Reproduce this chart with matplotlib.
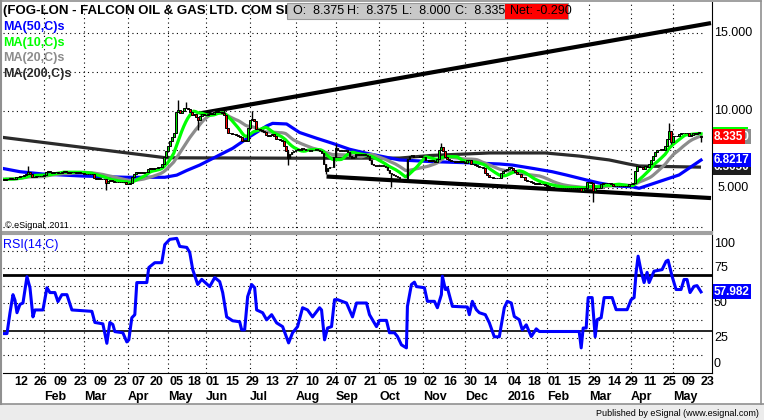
import numpy as np
import pandas as pd
import matplotlib
matplotlib.use("Agg")
import matplotlib.pyplot as plt
from matplotlib.patches import Rectangle
from matplotlib.lines import Line2D

plt.rcParams['font.family'] = ['Liberation Sans', 'DejaVu Sans']

# ---------------- data ----------------
uk_holidays = ['2015-01-01', '2015-04-03', '2015-04-06', '2015-05-04', '2015-05-25',
               '2015-08-31', '2015-12-25', '2015-12-28', '2016-01-01', '2016-03-25',
               '2016-03-28', '2016-05-02']
first_day = '2015-01-02'
last_day = '2016-05-23'

# daily closes, one row per month (Jan 2015 .. May 2016)
closes = [
    5.60, 5.55, 5.62, 5.58, 5.65, 5.60, 5.62, 5.70, 5.75, 5.80, 5.78, 5.85, 5.95, 6.05, 5.95, 5.70, 5.75, 5.80, 5.78, 5.82, 5.80,
    5.85, 6.05, 6.10, 6.05, 6.00, 6.02, 6.05, 6.00, 5.98, 6.05, 6.10, 6.02, 6.00, 6.05, 6.08, 6.05, 6.00, 6.02, 6.00, 5.98,
    5.95, 5.92, 5.95, 5.92, 5.90, 5.65, 5.62, 5.65, 5.60, 5.62, 5.58, 5.35, 5.50, 5.55, 5.50, 5.40, 5.42, 5.40, 5.40, 5.38, 5.40, 5.25,
    5.30, 5.35, 5.70, 5.95, 6.05, 6.00, 6.05, 6.00, 6.05, 6.05, 6.25, 6.30, 6.25, 6.30, 6.30, 6.35, 6.35, 6.60, 7.00, 7.40,
    7.70, 8.05, 8.30, 8.55, 9.90, 10.05, 9.85, 10.00, 10.15, 10.20, 10.10, 9.95, 9.75, 9.80, 9.60, 9.40, 9.65, 9.80, 9.75,
    9.75, 9.80, 9.85, 9.80, 9.95, 10.00, 9.90, 9.95, 9.85, 9.70, 8.90, 8.60, 8.55, 8.50, 8.50, 8.45, 8.40, 8.30, 8.05, 8.10, 8.05, 8.90,
    9.40, 9.50, 9.35, 8.85, 8.80, 8.75, 8.70, 8.65, 8.45, 8.40, 8.45, 8.50, 8.35, 8.20, 8.15, 8.10, 8.05, 7.70, 7.40, 6.95, 7.20, 7.35, 7.40,
    7.45, 7.55, 7.50, 7.60, 7.55, 7.50, 7.45, 7.40, 7.45, 7.50, 7.55, 7.50, 7.40, 7.30, 6.60, 6.10, 6.30, 6.35, 6.40, 7.00,
    7.60, 7.45, 7.40, 7.45, 7.40, 7.45, 7.35, 7.10, 6.95, 7.05, 7.20, 7.15, 7.20, 7.15, 7.20, 7.15, 7.10, 6.80, 6.60, 6.50, 6.45, 6.50,
    6.45, 6.50, 6.45, 6.40, 6.20, 6.00, 5.90, 5.85, 5.80, 5.70, 5.60, 5.50, 5.45, 5.40, 6.90, 7.10, 7.15, 7.05, 7.00, 7.05, 7.10, 7.05,
    7.00, 6.85, 6.80, 6.75, 6.80, 6.75, 6.70, 6.90, 7.50, 7.65, 7.40, 7.05, 6.90, 6.80, 6.75, 6.75, 6.70, 6.75, 6.70, 6.75, 6.70,
    6.65, 6.80, 6.85, 6.60, 6.55, 6.50, 6.45, 6.40, 6.35, 6.30, 6.00, 5.85, 5.75, 5.70, 5.65, 5.65, 5.65, 5.65, 6.00, 6.10, 6.20,
    6.25, 6.35, 6.30, 6.20, 6.05, 5.95, 5.90, 5.75, 5.70, 5.55, 5.50, 5.45, 5.40, 5.35, 5.30, 5.35, 5.30, 5.25, 5.25, 5.20,
    5.15, 5.10, 5.10, 5.05, 5.05, 5.05, 5.05, 5.05, 5.05, 5.05, 5.05, 5.05, 5.05, 5.05, 5.05, 5.05, 5.05, 4.85, 5.05, 5.05, 5.40,
    5.40, 5.35, 4.80, 5.00, 5.05, 5.05, 5.30, 5.35, 5.35, 5.35, 5.35, 5.30, 5.15, 5.15, 5.15, 5.15, 5.15, 5.15, 5.15, 5.15, 5.25,
    5.30, 5.35, 6.10, 6.45, 6.35, 6.40, 6.25, 6.45, 6.40, 6.55, 6.80, 7.10, 7.35, 7.45, 7.50, 7.55, 7.50, 7.70, 8.20, 8.70, 8.00,
    8.40, 8.35, 8.40, 8.50, 8.55, 8.60, 8.55, 8.60, 8.40, 8.45, 8.55, 8.50, 8.55, 8.625, 8.335,
]
last_open, last_high, last_low, last_close, net_change = 8.375, 8.375, 8.000, 8.335, -0.290

# long wicks
spike_high_bars = [13, 88, 92, 111, 125, 167, 220, 334]
spike_high_vals = [6.45, 10.70, 10.55, 10.20, 10.00, 7.85, 7.90, 9.20]
spike_low_bars = [52, 98, 143, 162, 195, 296, 335]
spike_low_vals = [4.90, 8.75, 6.50, 5.95, 5.10, 4.10, 7.85]

# MA(50) and MA(200) (bar index, value)
ma50_bars = [0, 9, 20.5, 40.5, 62.5, 81.5, 87.5, 92.5, 99, 115.5, 124, 132.5, 135.5, 142.5, 149, 157.5,
             165.5, 174, 182.5, 199, 215.5, 232.5, 249, 255.5, 265.5, 275.5, 282.5, 292.5, 299, 307.5,
             315.5, 319, 329, 339, 350]
ma50_vals = [6.29, 6.07, 5.92, 5.79, 5.71, 5.71, 5.85, 6.15, 6.50, 7.58, 8.33, 9.02, 9.19, 9.15, 8.60, 8.23,
             7.90, 7.52, 7.26, 6.83, 6.72, 6.65, 6.57, 6.50, 6.29, 6.07, 5.86, 5.54, 5.34, 5.15,
             5.10, 5.00, 5.43, 5.86, 6.8217]
ma200_bars = [0, 82, 150, 199, 215, 244, 272, 289, 304, 314, 319, 335, 350]
ma200_vals = [8.29, 6.97, 6.94, 6.95, 7.12, 7.28, 7.28, 7.08, 6.83, 6.56, 6.44, 6.40, 6.365]

# trend lines
upper_trend_bars = [99, 355]
upper_trend_vals = [9.83, 15.66]
lower_trend_bars = [162.5, 355]
lower_trend_vals = [5.76, 4.37]

# RSI(14) vertices (bar index, value)
rsi_bars = [0, 2.5, 4, 5.5, 6.5, 7.5, 9, 10.5, 12.5, 14, 15.5, 16.5, 20.5, 22.5, 24, 26.5, 28, 30, 32.5, 35,
            45, 46.5, 50.5, 52.5, 54, 55.5, 56.5, 60.5, 62.5, 63.5, 65, 66.5, 67.5, 72.5, 73.5, 76.5, 80,
            81.5, 84, 87.5, 89, 92.5, 94, 95.5, 98, 100, 104, 106.5, 109, 110.5, 112.5, 115.5, 119, 120,
            121.5, 123, 125, 126.5, 127.5, 130.5, 132.5, 135, 137.5, 140.5, 143.5, 145.5, 148, 150.5, 153,
            155.5, 159, 160, 161.5, 163, 165, 166.5, 168, 172.5, 175.5, 177.5, 182.5, 184, 187.5, 189,
            192.5, 194, 196.5, 198, 200, 202.5, 203, 205, 206.5, 207.5, 211.5, 213, 216.5, 218, 220,
            220.5, 222, 223, 225.5, 233, 234, 235.5, 237.5, 239, 242, 244, 246.5, 249, 251.5, 253, 255,
            256.5, 259, 260.5, 262.5, 265, 267.5, 269, 289, 290, 291, 292.5, 293.5, 295.5, 297, 298, 300,
            301.5, 305.5, 307.5, 313, 315, 316.5, 317.5, 318.5, 320, 321.5, 323, 324, 326.5, 330.5,
            332.5, 333.5, 335.5, 337.5, 340, 341.5, 343, 344.5, 346.5, 348, 350]
rsi_vals = [28, 28, 43, 56, 52, 43, 49, 50, 69, 61, 40, 45, 45, 61, 57.5, 57.5, 51, 56, 56, 45,
            44, 36, 35, 21, 36, 34.5, 29.4, 28.6, 22, 23.5, 39.4, 41.6, 64.7, 64.7, 75.5, 79, 79,
            92, 95.8, 96.5, 90.7, 90, 86.4, 74, 63.3, 67, 61.8, 68.3, 65.4, 57.5, 40, 37.2, 36.5, 30.7,
            30.7, 54.6, 63.3, 61, 45, 43, 37.9, 41.6, 35.7, 33, 21.3, 28.6, 33, 46.6, 45,
            40, 46.6, 45, 23.5, 32, 33, 52.4, 52.4, 50, 40, 50, 50, 41.6, 33, 37.5,
            37.5, 28.6, 28.6, 25.9, 19.9, 17.7, 47.6, 63.3, 65, 61.8, 61, 51.2, 51.2, 46.6, 56,
            69.3, 59.7, 61, 47.6, 47.1, 41.6, 51.2, 45.2, 43, 41.6, 35.8, 25.7, 25.7, 46.6, 51.2, 50,
            40.3, 38, 30.7, 34.3, 25.9, 31.4, 29.5, 29.5, 17.7, 32, 32, 53.9, 53.9, 25.7, 38, 39.4,
            53.9, 53.9, 45.2, 45.2, 52.4, 53.9, 72, 83.7, 72.9, 64.7, 72, 64.7, 72.9, 74,
            80, 80.8, 69.3, 59.7, 59.7, 66.9, 66.9, 57.5, 62, 62.5, 57.982]

# axis labels
tick_dates = ['2015-01-12', '2015-01-26', '2015-02-09', '2015-02-23', '2015-03-09', '2015-03-23',
              '2015-04-07', '2015-04-20', '2015-05-05', '2015-05-18', '2015-06-01', '2015-06-15',
              '2015-06-29', '2015-07-13', '2015-07-27', '2015-08-10', '2015-08-24', '2015-09-07',
              '2015-09-21', '2015-10-05', '2015-10-19', '2015-11-02', '2015-11-16', '2015-11-30',
              '2015-12-14', '2016-01-04', '2016-01-18', '2016-02-01', '2016-02-15', '2016-02-29',
              '2016-03-14', '2016-03-29', '2016-04-11', '2016-04-25', '2016-05-09', '2016-05-23']
month_dates = ['2015-02-01', '2015-03-01', '2015-04-01', '2015-05-01', '2015-06-01', '2015-07-01',
               '2015-08-01', '2015-09-01', '2015-10-01', '2015-11-01', '2015-12-01', '2016-01-01',
               '2016-02-01', '2016-03-01', '2016-04-01', '2016-05-01']
month_names = ['Feb', 'Mar', 'Apr', 'May', 'Jun', 'Jul', 'Aug', 'Sep', 'Oct', 'Nov', 'Dec', '2016',
               'Feb', 'Mar', 'Apr', 'May']
price_labels = [15, 10, 5]
price_grid = [2.5, 5, 7.5, 10, 12.5, 15]
rsi_labels = [100, 75, 50, 25, 0]
rsi_grid = [12.5, 25, 37.5, 50, 62.5, 75, 87.5]
rsi_bands = [70, 30]

# ---------------- layout helpers (pixels) ----------------
W, H = 764, 420
PL, PR = 3, 712


def fx(x):
    return x / W


def fy(y):
    return 1 - y / H


def afrac(px):
    return (px - PL) / (PR - PL)


days = pd.bdate_range(first_day, last_day, freq='C', holidays=uk_holidays)
tick_bars = days.searchsorted(pd.to_datetime(tick_dates))
tick_text = [d[-2:] for d in tick_dates]
month_bars = days.searchsorted(pd.to_datetime(month_dates))

close = np.array(closes)
bars = np.arange(len(close))
opn = np.r_[close[0], close[:-1]]
opn[-1] = last_open
high = np.maximum(opn, close)
low = np.minimum(opn, close)
high[spike_high_bars] = np.maximum(high[spike_high_bars], spike_high_vals)
low[spike_low_bars] = np.minimum(low[spike_low_bars], spike_low_vals)
high[-1] = last_high
low[-1] = last_low

s = pd.Series(close)
ma10 = s.rolling(10, min_periods=1).mean()
ma20 = s.rolling(20, min_periods=1).mean()

# ---------------- figure ----------------
fig = plt.figure(figsize=(7.64, 4.2), dpi=100)
fig.patch.set_facecolor('white')

ax = fig.add_axes([fx(PL), fy(231.5), (PR - PL) / W, (231.5 - 2) / H])
rax = fig.add_axes([fx(PL), fy(372.5), (PR - PL) / W, (372.5 - 233.5) / H])

xlim = (0.5, 355.5)
dots = (0, (1, 3))

# price panel
ax.set_xlim(*xlim)
ax.set_ylim(15 - (231.5 - 33.3) / 15.5, 15 + (33.3 - 2) / 15.5)
for v in price_grid:
    ax.plot([xlim[0], 350.5], [v, v], color='black', lw=0.8, ls=dots, zorder=1)
for b in month_bars:
    ax.axvline(b, color='black', lw=0.8, ls=dots, zorder=1)

ax.plot(ma200_bars, ma200_vals, color='#2b2b2b', lw=2.3, zorder=2, solid_capstyle='butt')
ax.plot(upper_trend_bars, upper_trend_vals, color='black', lw=3.0, zorder=2, solid_capstyle='butt')
ax.plot(lower_trend_bars, lower_trend_vals, color='black', lw=3.0, zorder=2, solid_capstyle='butt')
ax.plot(ma50_bars, ma50_vals, color='#0000ff', lw=2.3, zorder=3)
ax.plot(bars, ma20, color='#8c8c8c', lw=2.3, zorder=3)
ax.plot(bars, ma10, color='#00ff00', lw=2.3, zorder=3)

ax.vlines(bars, low, high, color='black', lw=1.0, zorder=4)
body_col = np.where(close >= opn, '#00e000', '#ff0000')
ax.bar(bars, np.abs(close - opn), bottom=np.minimum(opn, close), width=0.9,
       color=body_col, edgecolor='black', linewidth=0.7, zorder=5)

ax.set_xticks([])
ax.set_yticks([])
for side in ['top', 'left']:
    ax.spines[side].set_visible(False)
ax.spines['right'].set_color('black')
ax.spines['bottom'].set_color('#a0a0a0')
ax.spines['bottom'].set_linewidth(1.5)

for v in price_labels:
    ax.text(afrac(733), v, '%.3f' % v, transform=ax.get_yaxis_transform(), ha='center',
            va='center', fontsize=9, color='black', clip_on=False)


def value_box(a, y, txt, fc, zorder, x_px=714):
    a.text(afrac(x_px), y, txt, transform=a.get_yaxis_transform(), ha='left', va='center',
           fontsize=8.5, fontweight='bold', color='white', clip_on=False, zorder=zorder,
           bbox=dict(boxstyle='square,pad=0.12', fc=fc, ec='none'))


# MA(10) tag sits almost fully behind the price tag: only its top edge shows
ax.add_patch(Rectangle((afrac(713), ma10.iloc[-1] - 0.45), afrac(748) - afrac(713), 0.9,
                       transform=ax.get_yaxis_transform(), fc='#00ff00', ec='none',
                       clip_on=False, zorder=10))
value_box(ax, ma20.iloc[-1] - 0.05, '%.4f' % ma20.iloc[-1], '#8c8c8c', 11)
value_box(ax, last_close, '%.3f' % last_close, '#ff0000', 12)
value_box(ax, ma200_vals[-1], '%.4f' % ma200_vals[-1], '#1e1e1e', 13)
value_box(ax, ma50_vals[-1], '%.4f' % ma50_vals[-1], '#0000ff', 14)

# RSI panel
rax.set_xlim(*xlim)
rax.set_ylim(0, 100)
for v in rsi_grid:
    rax.plot([xlim[0], 350.5], [v, v], color='black', lw=0.8, ls=dots, zorder=1)
for b in month_bars:
    rax.axvline(b, color='black', lw=0.8, ls=dots, zorder=1)
rax.axhline(rsi_bands[0], color='black', lw=2.0, zorder=2)
rax.axhline(rsi_bands[1], color='black', lw=1.2, zorder=2)
rax.plot(rsi_bars, rsi_vals, color='#0000ff', lw=2.2, zorder=3)

rax.set_yticks([])
rax.set_xticks(tick_bars)
rax.set_xticklabels(tick_text, ha='left', fontsize=9, fontweight='bold')
rax.tick_params(axis='x', length=0, pad=2.5)
rax.spines['left'].set_visible(False)
rax.spines['top'].set_color('#a0a0a0')
rax.spines['top'].set_linewidth(1.5)
rax.spines['right'].set_color('black')
rax.spines['bottom'].set_color('black')

for b, name in zip(month_bars, month_names):
    rax.text(b, -(397 - 372.5) / 139, name, transform=rax.get_xaxis_transform(), ha='left',
             va='center', fontsize=9, fontweight='bold', clip_on=False)

for v in rsi_labels:
    rax.text(afrac(714), min(max(v, 6), 92.5), str(v), transform=rax.get_yaxis_transform(),
             ha='left', va='center', fontsize=9, clip_on=False, zorder=5)
value_box(rax, rsi_vals[-1], '%.3f' % rsi_vals[-1], '#0000ff', 10)

# ---------------- header, legends, frame ----------------
fig.text(fx(3), fy(11), '(FOG-LON - FALCON OIL & GAS LTD. COM SHS', fontsize=9.5,
         fontweight='bold', va='center', ha='left', zorder=4)
fig.patches.append(Rectangle((fx(287), fy(19)), fx(568 - 287), (19 - 3) / H, transform=fig.transFigure,
                             fc='#c8c8c8', ec='#9a9a9a', lw=0.8, zorder=5))
fig.patches.append(Rectangle((fx(505), fy(18.5)), fx(567.5 - 505), (18.5 - 3.5) / H,
                             transform=fig.transFigure, fc='#ff0000', ec='none', zorder=6))
for px, txt in [(293, 'O:  %.3f' % last_open), (347, 'H:  %.3f' % last_high),
                (402, 'L:  %.3f' % last_low), (455, 'C:  %.3f' % last_close),
                (510, 'Net: %.3f' % net_change)]:
    fig.text(fx(px), fy(11.5), txt, fontsize=9, va='center', ha='left', zorder=7)

legend_items = [('MA(50,C)s', '#0000ff', 27), ('MA(10,C)s', '#00ff00', 43),
                ('MA(20,C)s', '#8c8c8c', 58.5), ('MA(200,C)s', '#2b2b2b', 74)]
for txt, col, py in legend_items:
    fig.text(fx(3), fy(py), txt, color=col, fontsize=9, fontweight='bold', va='center', ha='left')

fig.text(fx(5), fy(225), '\u00a9 eSignal, 2011', fontsize=6.5, va='center', ha='left')
fig.text(fx(3), fy(245), 'RSI(14,C)', color='#0000ff', fontsize=9, va='center', ha='left')

# bottom band and outer frame
fig.patches.append(Rectangle((0, 0), 1, (420 - 404) / H, transform=fig.transFigure,
                             fc='#ececec', ec='none', zorder=0))
fig.lines.append(Line2D([0, 1], [fy(404), fy(404)], transform=fig.transFigure,
                        color='#909090', lw=1.2))
fig.lines.append(Line2D([fx(1), fx(1)], [fy(404), fy(0.5)], transform=fig.transFigure,
                        color='#909090', lw=1.5))
fig.lines.append(Line2D([fx(1), fx(761)], [fy(0.7), fy(0.7)], transform=fig.transFigure,
                        color='#909090', lw=1.2))
fig.lines.append(Line2D([fx(761), fx(761)], [fy(404), fy(0.5)], transform=fig.transFigure,
                        color='#909090', lw=1.2))
fig.text(fx(759), fy(413), 'Published by eSignal (www.esignal.com)', fontsize=6.5,
         va='center', ha='right')

fig.savefig('out.png', dpi=100)
